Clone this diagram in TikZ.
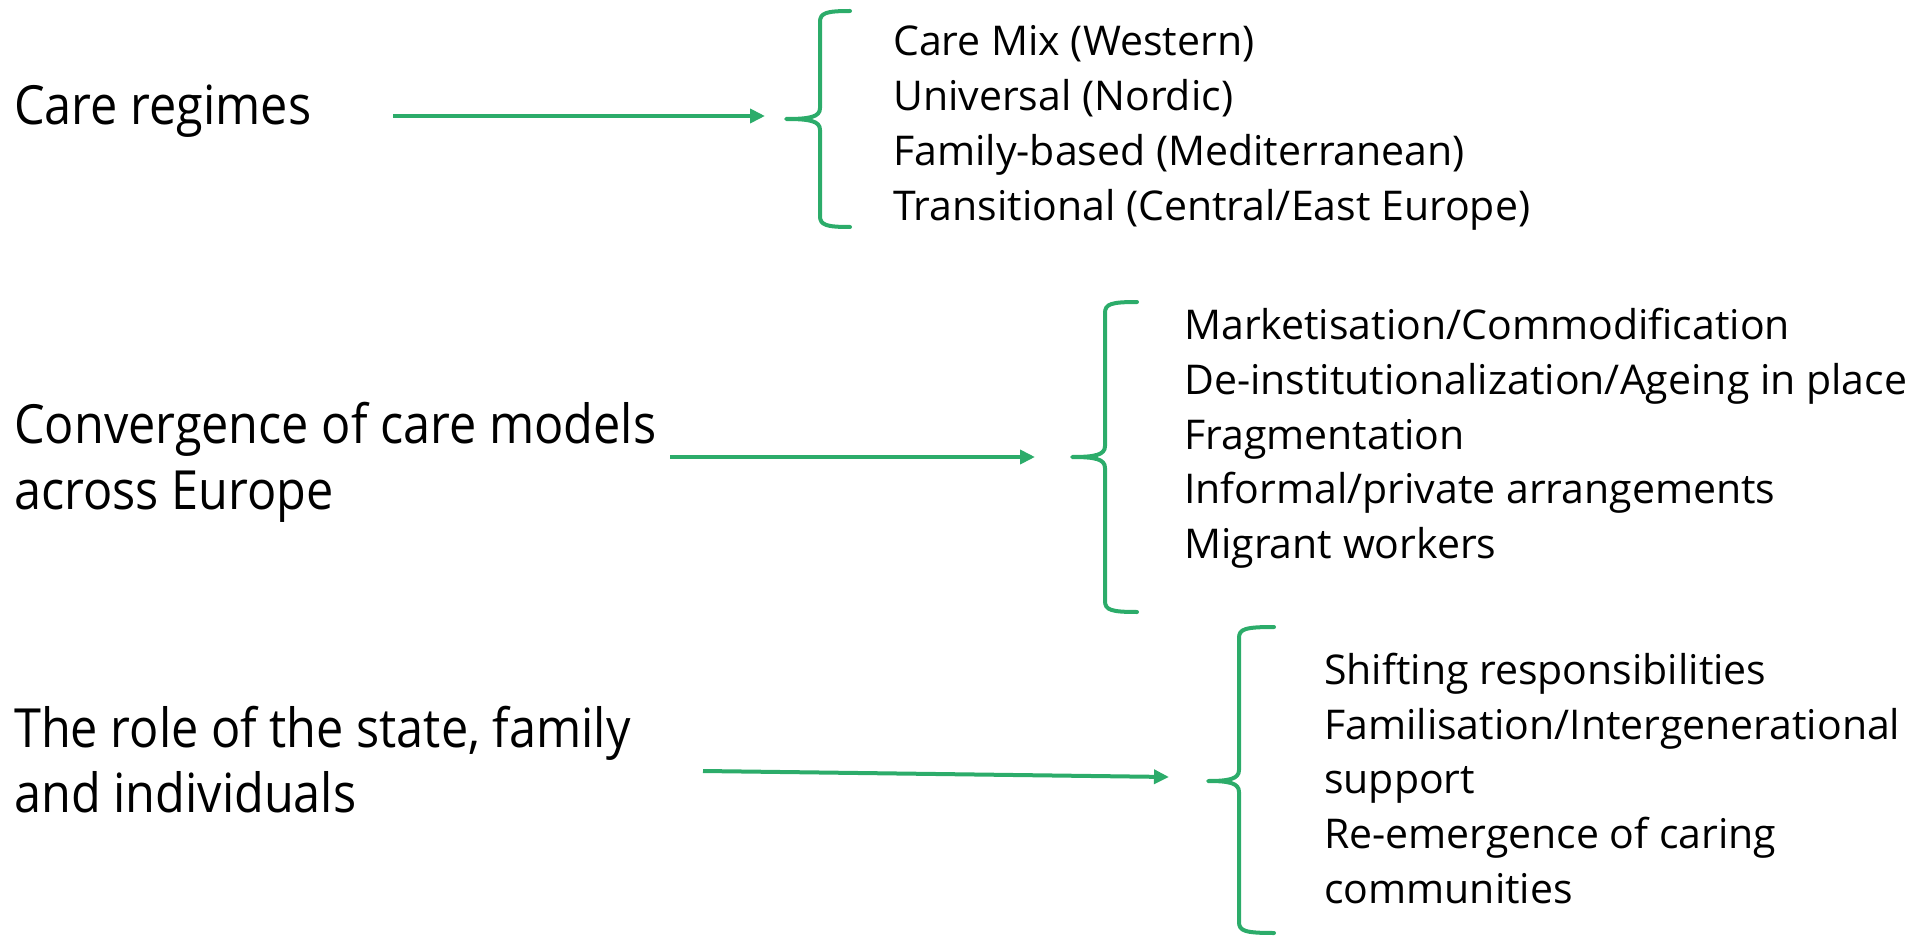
\documentclass[tikz,border=0pt]{standalone}
\usepackage{fontspec}
\setmainfont{Open Sans}[FakeStretch=0.9]
\newfontfamily\itemfont{Open Sans}
\usetikzlibrary{arrows.meta}
\definecolor{brgreen}{RGB}{44,172,106}
\tikzset{
  big/.style={anchor=base west, inner sep=0pt, font=\fontsize{54}{66}\selectfont},
  item/.style={anchor=base west, inner sep=0pt, font=\itemfont\fontsize{41}{55}\selectfont},
  conn/.style={draw=brgreen, line width=4pt, -{Triangle[length=15pt,width=14pt]}},
  brace/.style={draw=brgreen, line width=4pt, line cap=round, line join=round}
}
\begin{document}
\begin{tikzpicture}[x=1pt,y=-1pt]
\useasboundingbox (0,0) rectangle (1928,936);
% left labels
\node[big] (l1) at (14,125) {Care regimes};
\node[big] (l2a) at (14,443) {Convergence of care models};
\node[big] (l2b) at (14,509) {across Europe};
\node[big] (l3a) at (14,747) {The role of the state, family};
\node[big] (l3b) at (14,812) {and individuals};
% block 1
\node[item] (r1a) at (893,56) {Care Mix (Western)};
\node[item] (r1b) at (893,111) {Universal (Nordic)};
\node[item] (r1c) at (893,166) {Family-based (Mediterranean)};
\node[item] (r1d) at (893,221) {Transitional (Central/East Europe)};
% block 2
\node[item] (r2a) at (1184,339) {Marketisation/Commodification};
\node[item] (r2b) at (1184,394) {De-institutionalization/Ageing in place};
\node[item] (r2c) at (1184,449) {Fragmentation};
\node[item] (r2d) at (1184,503) {Informal/private arrangements};
\node[item] (r2e) at (1184,558) {Migrant workers};
% block 3
\node[item] (r3a) at (1324,684) {Shifting responsibilities};
\node[item] (r3b) at (1324,739) {Familisation/Intergenerational};
\node[item] (r3c) at (1324,793) {support};
\node[item] (r3d) at (1324,848) {Re-emergence of caring};
\node[item] (r3e) at (1324,903) {communities};
% arrow end points
\coordinate (a1s) at (393,116);
\coordinate (a1e) at (765,116);
\coordinate (a2s) at (670,457);
\coordinate (a2e) at (1035,457);
\coordinate (a3s) at (703,771);
\coordinate (a3e) at (1169,777);
\draw[conn] (a1s) -- (a1e);
\draw[conn] (a2s) -- (a2e);
\draw[conn] (a3s) -- (a3e);
% braces
\draw[brace] (850,11) .. controls (826,11) and (820,13) .. (820,22)
  -- (820,108) .. controls (820,117) and (810,119) .. (786,119)
  .. controls (810,119) and (820,121) .. (820,130)
  -- (820,216) .. controls (820,225) and (826,227) .. (850,227);
\draw[brace] (1137,302) .. controls (1111,302) and (1105,304) .. (1105,313)
  -- (1105,446) .. controls (1105,455) and (1095,457) .. (1072,457)
  .. controls (1095,457) and (1105,459) .. (1105,468)
  -- (1105,601) .. controls (1105,610) and (1111,612) .. (1137,612);
\draw[brace] (1274,627) .. controls (1245,627) and (1239,629) .. (1239,638)
  -- (1239,770) .. controls (1239,779) and (1229,781) .. (1208,781)
  .. controls (1229,781) and (1239,783) .. (1239,792)
  -- (1239,922) .. controls (1239,931) and (1245,933) .. (1274,933);
\end{tikzpicture}
\end{document}
